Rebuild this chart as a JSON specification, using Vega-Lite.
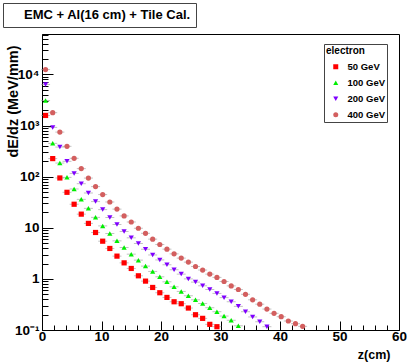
{
  "$schema": "https://vega.github.io/schema/vega-lite/v6.json",
  "width": 357,
  "height": 296,
  "autosize": {"type": "none"},
  "padding": {"left": 42, "top": 34, "right": 8, "bottom": 33},
  "background": "white",
  "config": {
    "view": {"stroke": "black", "strokeWidth": 1},
    "axis": {
      "grid": false,
      "domainColor": "black",
      "tickColor": "black",
      "labelColor": "black",
      "titleColor": "black",
      "labelFont": "Liberation Sans",
      "titleFont": "Liberation Sans",
      "labelFontWeight": "bold",
      "titleFontWeight": "bold",
      "domainWidth": 1,
      "tickWidth": 1,
      "labelFlush": false,
      "labelOverlap": false
    }
  },
  "data": {
    "values": [
      {"z": 0.6, "E": "50 GeV", "v": 1580},
      {"z": 1.8, "E": "50 GeV", "v": 226},
      {"z": 3.0, "E": "50 GeV", "v": 94.4},
      {"z": 4.2, "E": "50 GeV", "v": 49.5},
      {"z": 5.4, "E": "50 GeV", "v": 28.9},
      {"z": 6.6, "E": "50 GeV", "v": 18.5},
      {"z": 7.8, "E": "50 GeV", "v": 12.2},
      {"z": 9.0, "E": "50 GeV", "v": 8.1},
      {"z": 10.2, "E": "50 GeV", "v": 5.47},
      {"z": 11.4, "E": "50 GeV", "v": 3.94},
      {"z": 12.6, "E": "50 GeV", "v": 2.79},
      {"z": 13.8, "E": "50 GeV", "v": 2.06},
      {"z": 15.0, "E": "50 GeV", "v": 1.6},
      {"z": 16.2, "E": "50 GeV", "v": 1.15},
      {"z": 17.4, "E": "50 GeV", "v": 0.905},
      {"z": 18.6, "E": "50 GeV", "v": 0.68},
      {"z": 19.8, "E": "50 GeV", "v": 0.536},
      {"z": 21.0, "E": "50 GeV", "v": 0.434},
      {"z": 22.2, "E": "50 GeV", "v": 0.357},
      {"z": 23.4, "E": "50 GeV", "v": 0.327},
      {"z": 24.6, "E": "50 GeV", "v": 0.269},
      {"z": 25.8, "E": "50 GeV", "v": 0.199},
      {"z": 27.0, "E": "50 GeV", "v": 0.169},
      {"z": 28.2, "E": "50 GeV", "v": 0.129},
      {"z": 29.4, "E": "50 GeV", "v": 0.116},

      {"z": 0.6, "E": "100 GeV", "v": 3100},
      {"z": 1.8, "E": "100 GeV", "v": 449},
      {"z": 3.0, "E": "100 GeV", "v": 185},
      {"z": 4.2, "E": "100 GeV", "v": 97},
      {"z": 5.4, "E": "100 GeV", "v": 57.5},
      {"z": 6.6, "E": "100 GeV", "v": 36},
      {"z": 7.8, "E": "100 GeV", "v": 24},
      {"z": 9.0, "E": "100 GeV", "v": 16},
      {"z": 10.2, "E": "100 GeV", "v": 10.9},
      {"z": 11.4, "E": "100 GeV", "v": 7.74},
      {"z": 12.6, "E": "100 GeV", "v": 5.55},
      {"z": 13.8, "E": "100 GeV", "v": 4.12},
      {"z": 15.0, "E": "100 GeV", "v": 3.05},
      {"z": 16.2, "E": "100 GeV", "v": 2.33},
      {"z": 17.4, "E": "100 GeV", "v": 1.78},
      {"z": 18.6, "E": "100 GeV", "v": 1.4},
      {"z": 19.8, "E": "100 GeV", "v": 1.1},
      {"z": 21.0, "E": "100 GeV", "v": 0.877},
      {"z": 22.2, "E": "100 GeV", "v": 0.7},
      {"z": 23.4, "E": "100 GeV", "v": 0.569},
      {"z": 24.6, "E": "100 GeV", "v": 0.468},
      {"z": 25.8, "E": "100 GeV", "v": 0.39},
      {"z": 27.0, "E": "100 GeV", "v": 0.33},
      {"z": 28.2, "E": "100 GeV", "v": 0.273},
      {"z": 29.4, "E": "100 GeV", "v": 0.228},
      {"z": 30.6, "E": "100 GeV", "v": 0.1875},
      {"z": 31.8, "E": "100 GeV", "v": 0.155},
      {"z": 33.0, "E": "100 GeV", "v": 0.121},

      {"z": 0.6, "E": "200 GeV", "v": 6380},
      {"z": 1.8, "E": "200 GeV", "v": 922},
      {"z": 3.0, "E": "200 GeV", "v": 380},
      {"z": 4.2, "E": "200 GeV", "v": 200},
      {"z": 5.4, "E": "200 GeV", "v": 116},
      {"z": 6.6, "E": "200 GeV", "v": 73},
      {"z": 7.8, "E": "200 GeV", "v": 48},
      {"z": 9.0, "E": "200 GeV", "v": 32.6},
      {"z": 10.2, "E": "200 GeV", "v": 22.7},
      {"z": 11.4, "E": "200 GeV", "v": 15.9},
      {"z": 12.6, "E": "200 GeV", "v": 11.6},
      {"z": 13.8, "E": "200 GeV", "v": 8.47},
      {"z": 15.0, "E": "200 GeV", "v": 6.36},
      {"z": 16.2, "E": "200 GeV", "v": 4.93},
      {"z": 17.4, "E": "200 GeV", "v": 3.8},
      {"z": 18.6, "E": "200 GeV", "v": 2.94},
      {"z": 19.8, "E": "200 GeV", "v": 2.35},
      {"z": 21.0, "E": "200 GeV", "v": 1.89},
      {"z": 22.2, "E": "200 GeV", "v": 1.51},
      {"z": 23.4, "E": "200 GeV", "v": 1.24},
      {"z": 24.6, "E": "200 GeV", "v": 1.0},
      {"z": 25.8, "E": "200 GeV", "v": 0.865},
      {"z": 27.0, "E": "200 GeV", "v": 0.733},
      {"z": 28.2, "E": "200 GeV", "v": 0.62},
      {"z": 29.4, "E": "200 GeV", "v": 0.52},
      {"z": 30.6, "E": "200 GeV", "v": 0.43},
      {"z": 31.8, "E": "200 GeV", "v": 0.357},
      {"z": 33.0, "E": "200 GeV", "v": 0.29},
      {"z": 34.2, "E": "200 GeV", "v": 0.228},
      {"z": 35.4, "E": "200 GeV", "v": 0.18},
      {"z": 36.6, "E": "200 GeV", "v": 0.145},
      {"z": 37.8, "E": "200 GeV", "v": 0.116},

      {"z": 0.6, "E": "400 GeV", "v": 12500},
      {"z": 1.8, "E": "400 GeV", "v": 1790},
      {"z": 3.0, "E": "400 GeV", "v": 746},
      {"z": 4.2, "E": "400 GeV", "v": 393},
      {"z": 5.4, "E": "400 GeV", "v": 229},
      {"z": 6.6, "E": "400 GeV", "v": 144},
      {"z": 7.8, "E": "400 GeV", "v": 94},
      {"z": 9.0, "E": "400 GeV", "v": 64},
      {"z": 10.2, "E": "400 GeV", "v": 44.7},
      {"z": 11.4, "E": "400 GeV", "v": 32},
      {"z": 12.6, "E": "400 GeV", "v": 23.2},
      {"z": 13.8, "E": "400 GeV", "v": 17.1},
      {"z": 15.0, "E": "400 GeV", "v": 13.0},
      {"z": 16.2, "E": "400 GeV", "v": 9.8},
      {"z": 17.4, "E": "400 GeV", "v": 7.8},
      {"z": 18.6, "E": "400 GeV", "v": 6.0},
      {"z": 19.8, "E": "400 GeV", "v": 4.71},
      {"z": 21.0, "E": "400 GeV", "v": 3.82},
      {"z": 22.2, "E": "400 GeV", "v": 3.09},
      {"z": 23.4, "E": "400 GeV", "v": 2.55},
      {"z": 24.6, "E": "400 GeV", "v": 2.13},
      {"z": 25.8, "E": "400 GeV", "v": 1.75},
      {"z": 27.0, "E": "400 GeV", "v": 1.49},
      {"z": 28.2, "E": "400 GeV", "v": 1.24},
      {"z": 29.4, "E": "400 GeV", "v": 1.07},
      {"z": 30.6, "E": "400 GeV", "v": 0.89},
      {"z": 31.8, "E": "400 GeV", "v": 0.73},
      {"z": 33.0, "E": "400 GeV", "v": 0.62},
      {"z": 34.2, "E": "400 GeV", "v": 0.5},
      {"z": 35.4, "E": "400 GeV", "v": 0.39},
      {"z": 36.6, "E": "400 GeV", "v": 0.32},
      {"z": 37.8, "E": "400 GeV", "v": 0.257},
      {"z": 39.0, "E": "400 GeV", "v": 0.212},
      {"z": 40.2, "E": "400 GeV", "v": 0.182},
      {"z": 41.4, "E": "400 GeV", "v": 0.15},
      {"z": 42.6, "E": "400 GeV", "v": 0.133},
      {"z": 43.8, "E": "400 GeV", "v": 0.118}
    ]
  },
  "layer": [
    {
      "mark": {"type": "tick", "orient": "horizontal", "size": 9, "thickness": 1, "color": "#999999", "opacity": 0.6},
      "encoding": {
        "x": {
          "field": "z", "type": "quantitative",
          "scale": {"domain": [0, 60], "nice": false, "zero": false},
          "axis": {"orient": "bottom", "values": [2,4,6,8,12,14,16,18,22,24,26,28,32,34,36,38,42,44,46,48,52,54,56,58], "labels": false, "domain": false, "tickSize": -5, "title": null}
        },
        "y": {
          "field": "v", "type": "quantitative",
          "scale": {"type": "log", "domain": [0.1, 62000], "nice": false},
          "axis": {"orient": "left", "values": [0.2,0.3,0.4,0.5,0.6,0.7,0.8,0.9,2,3,4,5,6,7,8,9,20,30,40,50,60,70,80,90,200,300,400,500,600,700,800,900,2000,3000,4000,5000,6000,7000,8000,9000,20000,30000,40000,50000,60000], "labels": false, "domain": false, "tickSize": -6, "title": null}
        }
      }
    },
    {
      "mark": {"type": "point", "filled": true, "size": 27, "opacity": 1},
      "encoding": {
        "x": {
          "field": "z", "type": "quantitative",
          "axis": {"orient": "bottom", "values": [0,10,20,30,40,50,60], "tickSize": -9, "labelPadding": 8, "labelBaseline": "top", "labelFontSize": 13.5,
                   "title": "z(cm)", "titleX": 348, "titleY": 24, "titleAlign": "right", "titleBaseline": "middle", "titleFontSize": 12.5}
        },
        "y": {
          "field": "v", "type": "quantitative",
          "axis": {"orient": "left", "values": [0.1,1,10,100,1000,10000], "tickSize": -11, "labelPadding": 14, "labelFontSize": 13.5,
                   "labelExpr": "datum.value < 0.5 ? '10⁻¹' : datum.value < 5 ? '1' : datum.value < 50 ? '10' : datum.value < 500 ? '10²' : datum.value < 5000 ? '10³' : '10⁴'",
                   "title": "dE/dz (MeV/mm)", "titleX": -29, "titleY": 11, "titleAngle": 270, "titleAlign": "right", "titleBaseline": "middle", "titleFontSize": 14.5}
        },
        "color": {
          "field": "E", "type": "nominal",
          "scale": {"domain": ["50 GeV","100 GeV","200 GeV","400 GeV"], "range": ["#ff0000","#00ee00","#7f00ff","#d35f5f"]},
          "legend": {"title": "electron", "orient": "none", "legendX": 282, "legendY": 10, "padding": 2, "strokeColor": "#444444", "fillColor": "white",
                     "titleFontSize": 10, "titleFont": "Liberation Sans", "titleFontWeight": "bold", "titleColor": "black", "titlePadding": 6,
                     "labelFontSize": 9.5, "labelFont": "Liberation Sans", "labelFontWeight": "bold", "labelColor": "black",
                     "labelExpr": "datum.label + '       '",
                     "symbolSize": 25, "symbolOffset": 5, "labelOffset": 7, "rowPadding": 5, "symbolStrokeWidth": 0}
        },
        "shape": {
          "field": "E", "type": "nominal",
          "scale": {"domain": ["50 GeV","100 GeV","200 GeV","400 GeV"], "range": ["square","triangle-up","triangle-down","circle"]},
          "legend": {"title": "electron", "orient": "none", "legendX": 282, "legendY": 10, "padding": 2, "strokeColor": "#444444", "fillColor": "white",
                     "titleFontSize": 10, "titleFont": "Liberation Sans", "titleFontWeight": "bold", "titleColor": "black", "titlePadding": 6,
                     "labelFontSize": 9.5, "labelFont": "Liberation Sans", "labelFontWeight": "bold", "labelColor": "black",
                     "labelExpr": "datum.label + '       '",
                     "symbolSize": 25, "symbolOffset": 5, "labelOffset": 7, "rowPadding": 5, "symbolStrokeWidth": 0}
        }
      }
    },
    {
      "data": {"values": [{"caption": "EMC + Al(16 cm) + Tile Cal."}]},
      "mark": {"type": "point", "opacity": 0},
      "encoding": {
        "strokeDash": {
          "field": "caption", "type": "nominal",
          "legend": {"title": null, "orient": "none", "legendX": -39, "legendY": -31, "padding": 5, "strokeColor": "#444444", "fillColor": "white",
                     "symbolSize": 0, "symbolStrokeWidth": 0, "symbolOpacity": 0, "labelOffset": 3,
                     "labelFontSize": 13, "labelFont": "Liberation Sans", "labelFontWeight": "bold", "labelColor": "black", "labelLimit": 400}
        }
      }
    }
  ],
  "resolve": {"axis": {"x": "independent", "y": "independent"}}
}
